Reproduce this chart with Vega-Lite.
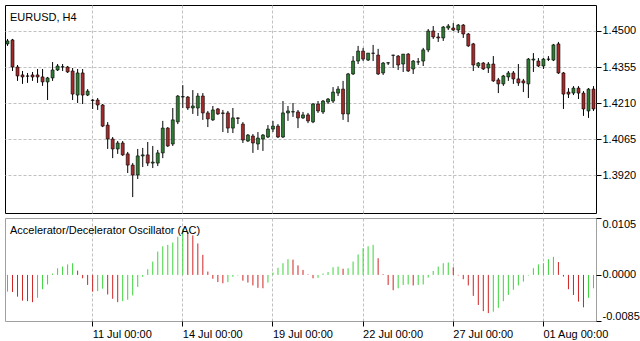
{
"$schema": "https://vega.github.io/schema/vega-lite/v6.json",
"padding": {"left": 4, "top": 4, "right": 0, "bottom": 0},
"background": "white",
"spacing": 3,
"config": {
  "font": "Liberation Sans",
  "view": {"stroke": "black", "strokeWidth": 1},
  "axis": {"labelFont": "Liberation Sans", "labelFontSize": 11, "labelColor": "black", "tickColor": "black", "gridColor": "#c0c0c0", "gridDash": [3, 2], "gridWidth": 1, "domain": false, "title": null}
},
"data": {"values": [
{"t":"06 Jul 04:00","o":1.4448,"h":1.4468,"l":1.4440,"c":1.4460,"ac":-0.00308,"d":"up"},
{"t":"06 Jul 08:00","o":1.4464,"h":1.4468,"l":1.4339,"c":1.4355,"ac":-0.00315,"d":"down"},
{"t":"06 Jul 12:00","o":1.4355,"h":1.4363,"l":1.4299,"c":1.4319,"ac":-0.0040,"d":"down"},
{"t":"06 Jul 16:00","o":1.4323,"h":1.4339,"l":1.4287,"c":1.4315,"ac":-0.00475,"d":"down"},
{"t":"06 Jul 20:00","o":1.4319,"h":1.4331,"l":1.4291,"c":1.4318,"ac":-0.00484,"d":"down"},
{"t":"07 Jul 00:00","o":1.4323,"h":1.4335,"l":1.4299,"c":1.4315,"ac":-0.00502,"d":"down"},
{"t":"07 Jul 04:00","o":1.4323,"h":1.4347,"l":1.4291,"c":1.4315,"ac":-0.00422,"d":"up"},
{"t":"07 Jul 08:00","o":1.4315,"h":1.4347,"l":1.4279,"c":1.4295,"ac":-0.00264,"d":"up"},
{"t":"07 Jul 12:00","o":1.4295,"h":1.4315,"l":1.4222,"c":1.4311,"ac":-0.00176,"d":"up"},
{"t":"07 Jul 16:00","o":1.4311,"h":1.4375,"l":1.4299,"c":1.4343,"ac":0.00026,"d":"up"},
{"t":"07 Jul 20:00","o":1.4343,"h":1.4367,"l":1.4339,"c":1.4359,"ac":0.00123,"d":"up"},
{"t":"08 Jul 00:00","o":1.4355,"h":1.4367,"l":1.4339,"c":1.4356,"ac":0.00154,"d":"up"},
{"t":"08 Jul 04:00","o":1.4355,"h":1.4359,"l":1.4331,"c":1.4335,"ac":0.00194,"d":"up"},
{"t":"08 Jul 08:00","o":1.4339,"h":1.4351,"l":1.4222,"c":1.4246,"ac":0.00216,"d":"up"},
{"t":"08 Jul 12:00","o":1.4242,"h":1.4347,"l":1.4210,"c":1.4331,"ac":0.00079,"d":"down"},
{"t":"08 Jul 16:00","o":1.4331,"h":1.4347,"l":1.4206,"c":1.4242,"ac":-0.00062,"d":"down"},
{"t":"08 Jul 20:00","o":1.4242,"h":1.4266,"l":1.4238,"c":1.4258,"ac":-0.00185,"d":"down"},
{"t":"11 Jul 00:00","o":1.4222,"h":1.4226,"l":1.4186,"c":1.4220,"ac":-0.00308,"d":"down"},
{"t":"11 Jul 04:00","o":1.4222,"h":1.4230,"l":1.4182,"c":1.4202,"ac":-0.00299,"d":"up"},
{"t":"11 Jul 08:00","o":1.4202,"h":1.4206,"l":1.4113,"c":1.4117,"ac":-0.00255,"d":"up"},
{"t":"11 Jul 12:00","o":1.4121,"h":1.4133,"l":1.4025,"c":1.4065,"ac":-0.00361,"d":"down"},
{"t":"11 Jul 16:00","o":1.4065,"h":1.4073,"l":1.3988,"c":1.4025,"ac":-0.0044,"d":"down"},
{"t":"11 Jul 20:00","o":1.4025,"h":1.4057,"l":1.4005,"c":1.4049,"ac":-0.00502,"d":"down"},
{"t":"12 Jul 00:00","o":1.4049,"h":1.4057,"l":1.3997,"c":1.4001,"ac":-0.00484,"d":"up"},
{"t":"12 Jul 04:00","o":1.4005,"h":1.4013,"l":1.3928,"c":1.3960,"ac":-0.00458,"d":"up"},
{"t":"12 Jul 08:00","o":1.3960,"h":1.3968,"l":1.3831,"c":1.3920,"ac":-0.00378,"d":"up"},
{"t":"12 Jul 12:00","o":1.3920,"h":1.4025,"l":1.3904,"c":1.3997,"ac":-0.0022,"d":"up"},
{"t":"12 Jul 16:00","o":1.3997,"h":1.4029,"l":1.3952,"c":1.4001,"ac":-0.00035,"d":"up"},
{"t":"12 Jul 20:00","o":1.4001,"h":1.4053,"l":1.3956,"c":1.3968,"ac":0.00106,"d":"up"},
{"t":"13 Jul 00:00","o":1.3968,"h":1.4037,"l":1.3948,"c":1.3972,"ac":0.00246,"d":"up"},
{"t":"13 Jul 04:00","o":1.3968,"h":1.4021,"l":1.3956,"c":1.4009,"ac":0.00431,"d":"up"},
{"t":"13 Jul 08:00","o":1.4009,"h":1.4138,"l":1.3988,"c":1.4109,"ac":0.00528,"d":"up"},
{"t":"13 Jul 12:00","o":1.4109,"h":1.4113,"l":1.4033,"c":1.4037,"ac":0.00554,"d":"up"},
{"t":"13 Jul 16:00","o":1.4045,"h":1.4190,"l":1.4037,"c":1.4142,"ac":0.00598,"d":"up"},
{"t":"13 Jul 20:00","o":1.4134,"h":1.4242,"l":1.4125,"c":1.4238,"ac":0.00704,"d":"up"},
{"t":"14 Jul 00:00","o":1.4234,"h":1.4282,"l":1.4190,"c":1.4236,"ac":0.00836,"d":"up"},
{"t":"14 Jul 04:00","o":1.4234,"h":1.4238,"l":1.4182,"c":1.4190,"ac":0.00792,"d":"down"},
{"t":"14 Jul 08:00","o":1.4190,"h":1.4262,"l":1.4166,"c":1.4198,"ac":0.0073,"d":"down"},
{"t":"14 Jul 12:00","o":1.4190,"h":1.4250,"l":1.4158,"c":1.4238,"ac":0.00581,"d":"down"},
{"t":"14 Jul 16:00","o":1.4238,"h":1.4250,"l":1.4142,"c":1.4170,"ac":0.0037,"d":"down"},
{"t":"14 Jul 20:00","o":1.4170,"h":1.4178,"l":1.4113,"c":1.4146,"ac":0.00062,"d":"down"},
{"t":"15 Jul 00:00","o":1.4142,"h":1.4198,"l":1.4138,"c":1.4182,"ac":-0.0007,"d":"down"},
{"t":"15 Jul 04:00","o":1.4186,"h":1.4190,"l":1.4162,"c":1.4166,"ac":-0.00132,"d":"down"},
{"t":"15 Jul 08:00","o":1.4170,"h":1.4182,"l":1.4093,"c":1.4168,"ac":-0.00154,"d":"down"},
{"t":"15 Jul 12:00","o":1.4170,"h":1.4178,"l":1.4089,"c":1.4109,"ac":-0.00132,"d":"up"},
{"t":"15 Jul 16:00","o":1.4109,"h":1.4190,"l":1.4089,"c":1.4150,"ac":-0.00035,"d":"up"},
{"t":"15 Jul 20:00","o":1.4150,"h":1.4152,"l":1.4125,"c":1.4148,"ac":-0.00009,"d":"up"},
{"t":"18 Jul 00:00","o":1.4125,"h":1.4133,"l":1.4049,"c":1.4061,"ac":-0.00106,"d":"down"},
{"t":"18 Jul 04:00","o":1.4057,"h":1.4085,"l":1.4053,"c":1.4081,"ac":-0.00141,"d":"down"},
{"t":"18 Jul 08:00","o":1.4077,"h":1.4085,"l":1.4009,"c":1.4049,"ac":-0.00194,"d":"down"},
{"t":"18 Jul 12:00","o":1.4045,"h":1.4093,"l":1.4021,"c":1.4069,"ac":-0.00238,"d":"down"},
{"t":"18 Jul 16:00","o":1.4065,"h":1.4085,"l":1.4017,"c":1.4081,"ac":-0.00246,"d":"down"},
{"t":"18 Jul 20:00","o":1.4073,"h":1.4121,"l":1.4069,"c":1.4105,"ac":-0.00141,"d":"up"},
{"t":"19 Jul 00:00","o":1.4105,"h":1.4138,"l":1.4093,"c":1.4117,"ac":0.00044,"d":"up"},
{"t":"19 Jul 04:00","o":1.4117,"h":1.4125,"l":1.4069,"c":1.4073,"ac":0.00132,"d":"up"},
{"t":"19 Jul 08:00","o":1.4073,"h":1.4218,"l":1.4069,"c":1.4170,"ac":0.00216,"d":"up"},
{"t":"19 Jul 12:00","o":1.4170,"h":1.4198,"l":1.4138,"c":1.4178,"ac":0.0029,"d":"up"},
{"t":"19 Jul 16:00","o":1.4174,"h":1.4210,"l":1.4154,"c":1.4175,"ac":0.00282,"d":"down"},
{"t":"19 Jul 20:00","o":1.4174,"h":1.4182,"l":1.4109,"c":1.4150,"ac":0.00176,"d":"down"},
{"t":"20 Jul 00:00","o":1.4150,"h":1.4174,"l":1.4146,"c":1.4162,"ac":0.00092,"d":"down"},
{"t":"20 Jul 04:00","o":1.4162,"h":1.4170,"l":1.4129,"c":1.4138,"ac":0.00009,"d":"down"},
{"t":"20 Jul 08:00","o":1.4134,"h":1.4210,"l":1.4129,"c":1.4206,"ac":-0.00062,"d":"down"},
{"t":"20 Jul 12:00","o":1.4206,"h":1.4218,"l":1.4170,"c":1.4178,"ac":-0.00053,"d":"up"},
{"t":"20 Jul 16:00","o":1.4174,"h":1.4222,"l":1.4166,"c":1.4218,"ac":0.00026,"d":"up"},
{"t":"20 Jul 20:00","o":1.4214,"h":1.4230,"l":1.4206,"c":1.4226,"ac":0.00053,"d":"up"},
{"t":"21 Jul 00:00","o":1.4218,"h":1.4274,"l":1.4210,"c":1.4254,"ac":0.00141,"d":"up"},
{"t":"21 Jul 04:00","o":1.4250,"h":1.4278,"l":1.4238,"c":1.4266,"ac":0.00154,"d":"up"},
{"t":"21 Jul 08:00","o":1.4266,"h":1.4299,"l":1.4142,"c":1.4166,"ac":0.00114,"d":"down"},
{"t":"21 Jul 12:00","o":1.4166,"h":1.4331,"l":1.4133,"c":1.4327,"ac":0.00123,"d":"up"},
{"t":"21 Jul 16:00","o":1.4327,"h":1.4399,"l":1.4323,"c":1.4379,"ac":0.00246,"d":"up"},
{"t":"21 Jul 20:00","o":1.4379,"h":1.4440,"l":1.4367,"c":1.4419,"ac":0.00378,"d":"up"},
{"t":"22 Jul 00:00","o":1.4419,"h":1.4432,"l":1.4379,"c":1.4387,"ac":0.00493,"d":"up"},
{"t":"22 Jul 04:00","o":1.4383,"h":1.4411,"l":1.4379,"c":1.4411,"ac":0.00528,"d":"up"},
{"t":"22 Jul 08:00","o":1.4411,"h":1.4444,"l":1.4379,"c":1.4410,"ac":0.00554,"d":"up"},
{"t":"22 Jul 12:00","o":1.4403,"h":1.4428,"l":1.4323,"c":1.4327,"ac":0.00308,"d":"down"},
{"t":"22 Jul 16:00","o":1.4331,"h":1.4375,"l":1.4323,"c":1.4371,"ac":0.00013,"d":"down"},
{"t":"22 Jul 20:00","o":1.4371,"h":1.4375,"l":1.4363,"c":1.4372,"ac":-0.00185,"d":"down"},
{"t":"25 Jul 00:00","o":1.4403,"h":1.4404,"l":1.4351,"c":1.4402,"ac":-0.00282,"d":"down"},
{"t":"25 Jul 04:00","o":1.4399,"h":1.4403,"l":1.4343,"c":1.4363,"ac":-0.00246,"d":"up"},
{"t":"25 Jul 08:00","o":1.4367,"h":1.4407,"l":1.4335,"c":1.4407,"ac":-0.00185,"d":"up"},
{"t":"25 Jul 12:00","o":1.4407,"h":1.4411,"l":1.4335,"c":1.4339,"ac":-0.00176,"d":"up"},
{"t":"25 Jul 16:00","o":1.4347,"h":1.4383,"l":1.4327,"c":1.4379,"ac":-0.00194,"d":"down"},
{"t":"25 Jul 20:00","o":1.4375,"h":1.4391,"l":1.4363,"c":1.4376,"ac":-0.00185,"d":"up"},
{"t":"26 Jul 00:00","o":1.4379,"h":1.4432,"l":1.4359,"c":1.4424,"ac":-0.00176,"d":"up"},
{"t":"26 Jul 04:00","o":1.4424,"h":1.4508,"l":1.4415,"c":1.4500,"ac":-0.00049,"d":"up"},
{"t":"26 Jul 08:00","o":1.4500,"h":1.4520,"l":1.4468,"c":1.4476,"ac":0.00074,"d":"up"},
{"t":"26 Jul 12:00","o":1.4476,"h":1.4492,"l":1.4456,"c":1.4472,"ac":0.00154,"d":"up"},
{"t":"26 Jul 16:00","o":1.4472,"h":1.4520,"l":1.4460,"c":1.4516,"ac":0.00216,"d":"up"},
{"t":"26 Jul 20:00","o":1.4512,"h":1.4528,"l":1.4504,"c":1.4520,"ac":0.00229,"d":"up"},
{"t":"27 Jul 00:00","o":1.4512,"h":1.4532,"l":1.4500,"c":1.4504,"ac":0.00141,"d":"down"},
{"t":"27 Jul 04:00","o":1.4504,"h":1.4528,"l":1.4492,"c":1.4524,"ac":-0.00009,"d":"down"},
{"t":"27 Jul 08:00","o":1.4524,"h":1.4528,"l":1.4472,"c":1.4488,"ac":-0.00079,"d":"down"},
{"t":"27 Jul 12:00","o":1.4488,"h":1.4492,"l":1.4436,"c":1.4440,"ac":-0.00194,"d":"down"},
{"t":"27 Jul 16:00","o":1.4448,"h":1.4452,"l":1.4339,"c":1.4363,"ac":-0.00387,"d":"down"},
{"t":"27 Jul 20:00","o":1.4359,"h":1.4375,"l":1.4351,"c":1.4371,"ac":-0.00554,"d":"down"},
{"t":"28 Jul 00:00","o":1.4371,"h":1.4375,"l":1.4343,"c":1.4347,"ac":-0.00669,"d":"down"},
{"t":"28 Jul 04:00","o":1.4351,"h":1.4375,"l":1.4331,"c":1.4367,"ac":-0.00704,"d":"down"},
{"t":"28 Jul 08:00","o":1.4367,"h":1.4399,"l":1.4295,"c":1.4299,"ac":-0.00678,"d":"up"},
{"t":"28 Jul 12:00","o":1.4303,"h":1.4311,"l":1.4250,"c":1.4287,"ac":-0.00607,"d":"up"},
{"t":"28 Jul 16:00","o":1.4287,"h":1.4323,"l":1.4279,"c":1.4319,"ac":-0.00484,"d":"up"},
{"t":"28 Jul 20:00","o":1.4315,"h":1.4339,"l":1.4299,"c":1.4331,"ac":-0.0037,"d":"up"},
{"t":"29 Jul 00:00","o":1.4331,"h":1.4339,"l":1.4287,"c":1.4307,"ac":-0.00273,"d":"up"},
{"t":"29 Jul 04:00","o":1.4307,"h":1.4367,"l":1.4279,"c":1.4291,"ac":-0.00194,"d":"up"},
{"t":"29 Jul 08:00","o":1.4299,"h":1.4307,"l":1.4254,"c":1.4291,"ac":-0.00123,"d":"up"},
{"t":"29 Jul 12:00","o":1.4287,"h":1.4391,"l":1.4230,"c":1.4387,"ac":-0.00009,"d":"up"},
{"t":"29 Jul 16:00","o":1.4383,"h":1.4411,"l":1.4335,"c":1.4387,"ac":0.00123,"d":"up"},
{"t":"29 Jul 20:00","o":1.4379,"h":1.4391,"l":1.4355,"c":1.4359,"ac":0.00194,"d":"up"},
{"t":"01 Aug 00:00","o":1.4359,"h":1.4391,"l":1.4347,"c":1.4387,"ac":0.00216,"d":"up"},
{"t":"01 Aug 04:00","o":1.4387,"h":1.4399,"l":1.4379,"c":1.4386,"ac":0.0029,"d":"up"},
{"t":"01 Aug 08:00","o":1.4383,"h":1.4448,"l":1.4379,"c":1.4444,"ac":0.00334,"d":"up"},
{"t":"01 Aug 12:00","o":1.4448,"h":1.4456,"l":1.4327,"c":1.4331,"ac":0.00238,"d":"down"},
{"t":"01 Aug 16:00","o":1.4331,"h":1.4335,"l":1.4186,"c":1.4246,"ac":-0.00031,"d":"down"},
{"t":"01 Aug 20:00","o":1.4254,"h":1.4270,"l":1.4230,"c":1.4246,"ac":-0.00264,"d":"down"},
{"t":"02 Aug 00:00","o":1.4250,"h":1.4278,"l":1.4242,"c":1.4270,"ac":-0.0037,"d":"down"},
{"t":"02 Aug 04:00","o":1.4270,"h":1.4278,"l":1.4226,"c":1.4250,"ac":-0.00493,"d":"down"},
{"t":"02 Aug 08:00","o":1.4250,"h":1.4258,"l":1.4158,"c":1.4186,"ac":-0.00598,"d":"down"},
{"t":"02 Aug 12:00","o":1.4178,"h":1.4270,"l":1.4150,"c":1.4266,"ac":-0.00422,"d":"up"},
{"t":"02 Aug 16:00","o":1.4266,"h":1.4278,"l":1.4178,"c":1.4186,"ac":-0.00246,"d":"up"}
]},
"vconcat": [
  {
    "width": 591, "height": 208,
    "encoding": {
      "x": {"field": "t", "type": "ordinal", "sort": null, "scale": {"paddingInner": 0, "paddingOuter": 0},
            "axis": {"values": ["11 Jul 00:00", "14 Jul 00:00", "19 Jul 00:00", "22 Jul 00:00", "27 Jul 00:00", "01 Aug 00:00"], "labels": false, "ticks": false, "grid": true, "bandPosition": 0.5}}
    },
    "layer": [
      {"mark": {"type": "rule", "color": "black", "strokeWidth": 1},
       "encoding": {
         "y": {"field": "l", "type": "quantitative", "scale": {"domain": [1.3767, 1.46047], "nice": false, "zero": false},
               "axis": {"orient": "right", "values": [1.392, 1.4065, 1.421, 1.4355, 1.45], "format": ".4f", "grid": true, "tickSize": 5, "labelPadding": 1}},
         "y2": {"field": "h"}
       }},
      {"mark": {"type": "bar", "size": 3, "stroke": "black", "strokeWidth": 0.6},
       "encoding": {
         "y": {"field": "o", "type": "quantitative"},
         "y2": {"field": "c"},
         "color": {"condition": {"test": "datum.c >= datum.o", "value": "#2e7b32"}, "value": "#a32a2a"}
       }},
      {"transform": [{"filter": "datum.t == '06 Jul 04:00'"}],
       "mark": {"type": "text", "text": "EURUSD, H4", "align": "left", "baseline": "alphabetic", "dx": 2.5, "dy": 16, "fontSize": 11, "font": "Liberation Sans", "color": "black"},
       "encoding": {"y": {"datum": 1.46047, "type": "quantitative"}}}
    ]
  },
  {
    "width": 591, "height": 103,
    "view": {"stroke": "#a0a0a0"},
    "encoding": {
      "x": {"field": "t", "type": "ordinal", "sort": null, "scale": {"paddingInner": 0, "paddingOuter": 0},
            "axis": {"values": ["11 Jul 00:00", "14 Jul 00:00", "19 Jul 00:00", "22 Jul 00:00", "27 Jul 00:00", "01 Aug 00:00"], "labels": true, "ticks": true, "tickSize": 5, "grid": true, "bandPosition": 0.5, "labelAlign": "left", "labelBaseline": "top", "labelPadding": 2, "labelAngle": 0, "labelOverlap": false, "labelBound": false, "labelFlush": false}}
    },
    "layer": [
      {"mark": {"type": "rule", "color": "#c0c0c0", "strokeWidth": 1},
       "encoding": {"y": {"datum": 0, "type": "quantitative", "scale": {"domain": [-0.0085, 0.0105], "nice": false, "zero": false},
         "axis": {"orient": "right", "values": [-0.0085, 0, 0.0105], "labelExpr": "datum.value < 0 ? '-' + format(-datum.value, '.4f') : format(datum.value, '.4f')", "grid": false, "tickSize": 5, "labelPadding": 1, "labelFlush": true, "labelFlushOffset": 0}}}},
      {"mark": {"type": "rule", "strokeWidth": 1},
       "encoding": {
         "y": {"field": "ac", "type": "quantitative"},
         "y2": {"datum": 0},
         "color": {"field": "d", "type": "nominal", "scale": {"domain": ["up", "down"], "range": ["#3cd43c", "#d02424"]}, "legend": null}
       }},
      {"transform": [{"filter": "datum.t == '06 Jul 04:00'"}],
       "mark": {"type": "text", "text": "Accelerator/Decelerator Oscillator (AC)", "align": "left", "baseline": "alphabetic", "dx": 2.5, "dy": 16, "fontSize": 11, "font": "Liberation Sans", "color": "black"},
       "encoding": {"y": {"datum": 0.0105, "type": "quantitative"}}}
    ]
  }
]
}
